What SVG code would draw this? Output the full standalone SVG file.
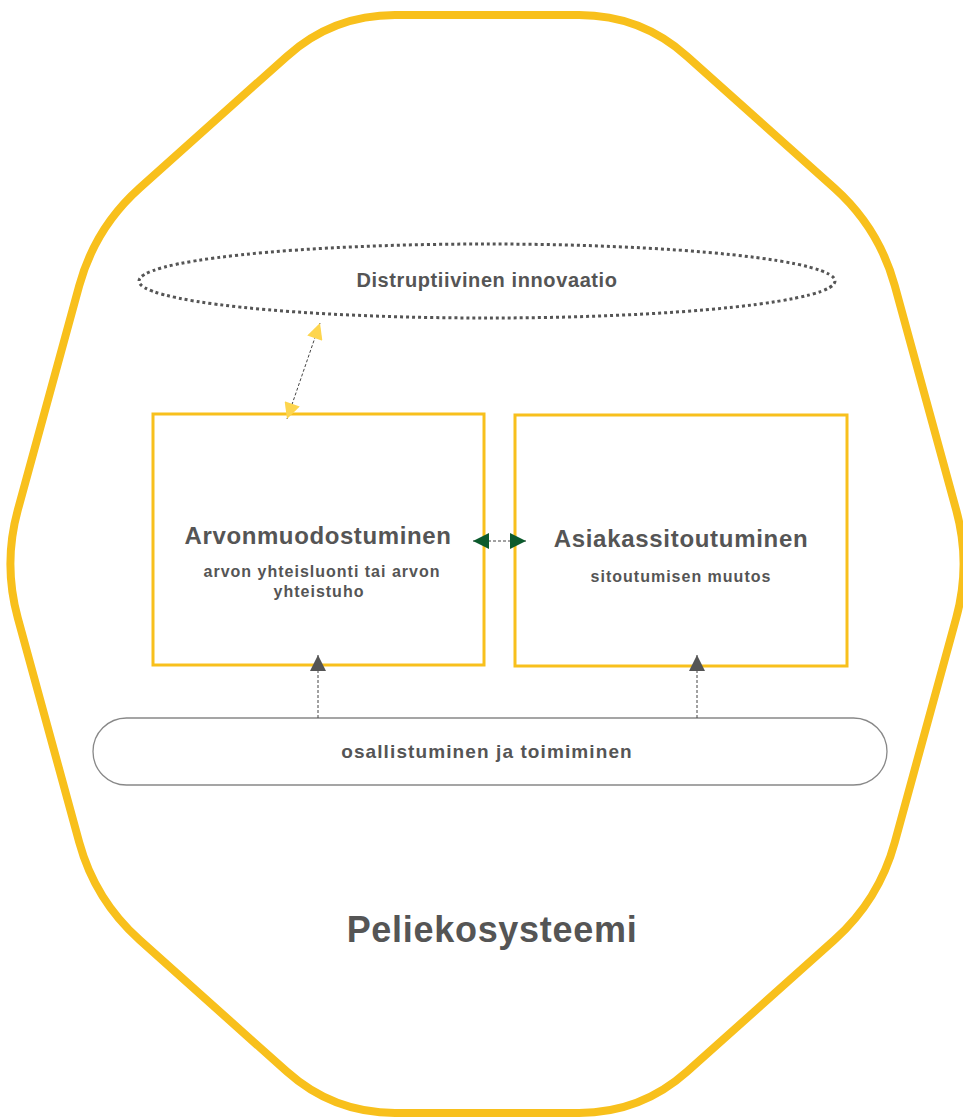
<svg xmlns="http://www.w3.org/2000/svg" width="963" height="1118" viewBox="0 0 963 1118">
<style>
  .t { font-family: "Liberation Sans", Arial, sans-serif; font-weight: bold; fill: #555555; text-anchor: middle; }
  .box { fill: #ffffff; stroke: #F8C01C; stroke-width: 3; }
  .conn { fill: none; stroke: #444444; stroke-width: 1; stroke-dasharray: 3 2; }
</style>
<defs>
  <marker id="ay" viewBox="0 0 10 10" refX="10" refY="5" markerWidth="18" markerHeight="16" markerUnits="userSpaceOnUse" orient="auto-start-reverse">
    <path d="M0,0 L10,5 L0,10 z" fill="#FDD54E"/>
  </marker>
  <marker id="ag" viewBox="0 0 10 10" refX="10" refY="5" markerWidth="18" markerHeight="16" markerUnits="userSpaceOnUse" orient="auto-start-reverse">
    <path d="M0,0 L10,5 L0,10 z" fill="#0B5A2C"/>
  </marker>
  <marker id="ak" viewBox="0 0 10 10" refX="10" refY="5" markerWidth="16" markerHeight="17" markerUnits="userSpaceOnUse" orient="auto">
    <path d="M0,0 L10,5 L0,10 z" fill="#555555"/>
  </marker>
</defs>
<rect width="963" height="1118" fill="#ffffff"/>
<g id="peliekosysteemi">
  <path d="M395,15 L579,15 Q641,15 687.2,56.4 L834.3,188 Q879,228 894.8,285.8 L956.2,510 Q971,564 956.2,618 L894.8,842.2 Q879,900 834.3,940 L687.2,1071.6 Q641,1113 579,1113 L395,1113 Q333,1113 286.8,1071.6 L139.7,940 Q95,900 79.2,842.2 L17.8,618 Q3,564 17.8,510 L79.2,285.8 Q95,228 139.7,188 L286.8,56.4 Q333,15 395,15 Z" fill="none" stroke="#F8C01C" stroke-width="8"/>
  <text class="t" x="492" y="942" font-size="36" letter-spacing="0.7">Peliekosysteemi</text>
</g>
<g id="distruptiivinen">
  <ellipse cx="487" cy="281" rx="348" ry="37" fill="none" stroke="#555555" stroke-width="3" stroke-dasharray="3 3"/>
  <text class="t" x="487" y="287" font-size="20" letter-spacing="0.6">Distruptiivinen innovaatio</text>
</g>
<g id="arvonmuodostuminen">
  <rect class="box" x="153" y="414" width="331" height="251"/>
  <text class="t" x="318" y="544" font-size="24" letter-spacing="0.6">Arvonmuodostuminen</text>
  <text class="t" x="322" y="577" font-size="16" letter-spacing="1">arvon yhteisluonti tai arvon</text>
  <text class="t" x="319" y="597" font-size="16" letter-spacing="1">yhteistuho</text>
</g>
<g id="asiakassitoutuminen">
  <rect class="box" x="515" y="415" width="332" height="251"/>
  <text class="t" x="681" y="547" font-size="24" letter-spacing="0.7">Asiakassitoutuminen</text>
  <text class="t" x="681" y="582" font-size="16" letter-spacing="1">sitoutumisen muutos</text>
</g>
<g id="osallistuminen">
  <rect x="93" y="718" width="794" height="67" rx="33.5" ry="33.5" fill="#ffffff" stroke="#888888" stroke-width="1.3"/>
  <text class="t" x="487" y="758" font-size="19" letter-spacing="1.1">osallistuminen ja toimiminen</text>
</g>
<g id="connectors">
  <line class="conn" x1="287" y1="419" x2="320" y2="323" marker-start="url(#ay)" marker-end="url(#ay)"/>
  <line class="conn" x1="473" y1="541" x2="526" y2="541" stroke="#777777" marker-start="url(#ag)" marker-end="url(#ag)"/>
  <line class="conn" x1="318" y1="718" x2="318" y2="655" marker-end="url(#ak)"/>
  <line class="conn" x1="697" y1="718" x2="697" y2="655" marker-end="url(#ak)"/>
</g>
</svg>
